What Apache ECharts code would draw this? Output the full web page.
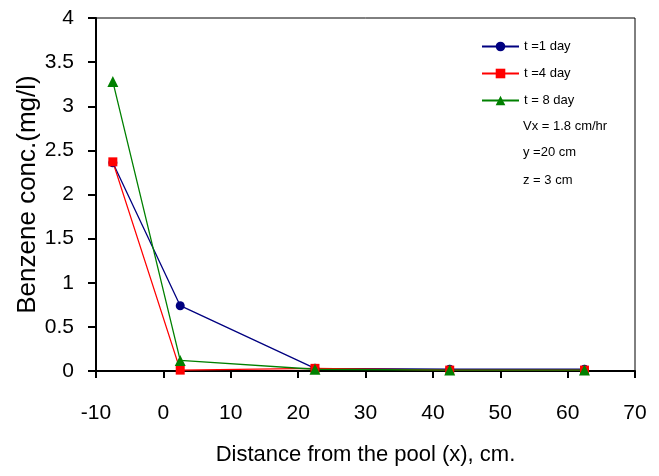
<!DOCTYPE html>
<html>
<head>
<meta charset="utf-8">
<script src="https://cdn.jsdelivr.net/npm/echarts@6/dist/echarts.min.js"></script>
<style>
  html, body { margin: 0; padding: 0; background: #fff; }
  #chart { width: 659px; height: 476px; }
</style>
</head>
<body>
<div id="chart"></div>
<script>
// Distance from the pool (cm) at which concentration was computed
var distance = [-7.5, 2.5, 22.5, 42.5, 62.5];

// Benzene concentration (mg/l) for each elapsed time
var day1 = [2.36, 0.74, 0.03, 0.02, 0.02];
var day4 = [2.37, 0.01, 0.03, 0.01, 0.01];
var day8 = [3.28, 0.12, 0.02, 0.01, 0.01];

var seriesNames = ['t =1 day', 't =4 day', 't = 8 day'];
var noteLines = ['Vx = 1.8 cm/hr', 'y =20 cm', 'z = 3 cm'];

var xTicks = { min: -10, max: 70, step: 10 };
var yTicks = { min: 0, max: 4, step: 0.5 };

function pairs(ys) {
  return distance.map(function (x, i) { return [x, ys[i]]; });
}

var sans = '"Liberation Sans", Arial, sans-serif';

var chart = echarts.init(document.getElementById('chart'), null, { renderer: 'canvas' });

var option = {
  animation: false,
  backgroundColor: '#ffffff',
  grid: {
    left: 96, right: 24, top: 18, bottom: 105,
    show: true, borderColor: '#000', borderWidth: 1, backgroundColor: 'transparent'
  },
  xAxis: {
    type: 'value',
    min: xTicks.min, max: xTicks.max, interval: xTicks.step,
    name: 'Distance from the pool (x), cm.',
    nameLocation: 'middle',
    nameGap: 73,
    nameMoveOverlap: false,
    nameTextStyle: { fontFamily: sans, fontSize: 22, color: '#000' },
    axisLine: { show: true, onZero: false, lineStyle: { color: '#000', width: 2 } },
    axisTick: { show: true, inside: false, length: 7, lineStyle: { color: '#000', width: 2 } },
    axisLabel: { fontFamily: sans, fontSize: 21, color: '#000', margin: 32 },
    splitLine: { show: false }
  },
  yAxis: {
    type: 'value',
    min: yTicks.min, max: yTicks.max, interval: yTicks.step,
    name: 'Benzene conc.(mg/l)',
    nameLocation: 'middle',
    nameGap: 55,
    nameMoveOverlap: false,
    nameTextStyle: { fontFamily: sans, fontSize: 26, color: '#000' },
    axisLine: { show: true, onZero: false, lineStyle: { color: '#000', width: 2 } },
    axisTick: { show: true, inside: false, length: 8, lineStyle: { color: '#000', width: 2 } },
    axisLabel: { fontFamily: sans, fontSize: 21, color: '#000', margin: 22 },
    splitLine: { show: false }
  },
  legend: {
    orient: 'vertical',
    left: 481, top: 39,
    padding: 0,
    itemWidth: 37, itemHeight: 12,
    itemGap: 12,
    textStyle: { fontFamily: sans, fontSize: 13, color: '#000', lineHeight: 15 },
    data: seriesNames
  },
  graphic: noteLines.map(function (t, i) {
    return {
      type: 'text',
      left: 523,
      top: [120, 146, 174][i],
      style: { text: t, fill: '#000', font: '13px ' + sans }
    };
  }),
  series: [
    {
      name: seriesNames[0], type: 'line', data: pairs(day1),
      symbol: 'circle', symbolSize: 9,
      lineStyle: { color: '#000080', width: 1.3 },
      itemStyle: { color: '#000080' }
    },
    {
      name: seriesNames[1], type: 'line', data: pairs(day4),
      symbol: 'rect', symbolSize: 9,
      lineStyle: { color: '#ff0000', width: 1.3 },
      itemStyle: { color: '#ff0000' }
    },
    {
      name: seriesNames[2], type: 'line', data: pairs(day8),
      symbol: 'triangle', symbolSize: 11,
      lineStyle: { color: '#008000', width: 1.3 },
      itemStyle: { color: '#008000' }
    }
  ]
};

chart.setOption(option);
</script>
</body>
</html>
